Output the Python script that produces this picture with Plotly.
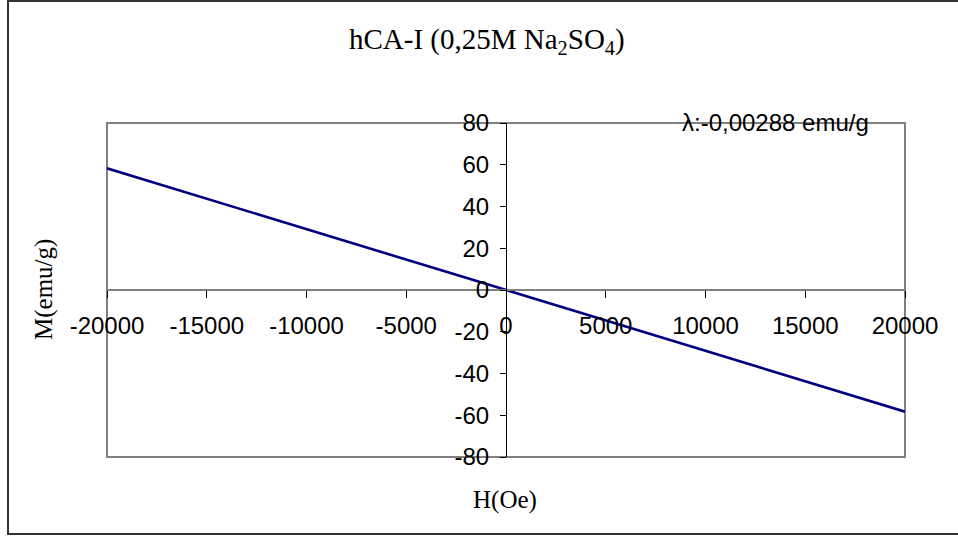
import plotly.graph_objects as go

# Magnetisation curve of hCA-I in 0.25 M Na2SO4
field_oe = [-20000, -10000, 0, 10000, 20000]
magnetisation = [58.3, 29.2, 0.1, -29.1, -58.3]

x_ticks = [-20000, -15000, -10000, -5000, 0, 5000, 10000, 15000, 20000]
y_ticks = [-80, -60, -40, -20, 0, 20, 40, 60, 80]

title_text = "hCA-I (0,25M Na<sub>2</sub>SO<sub>4</sub>)"
x_title = "H(Oe)"
y_title = "M(emu/g)"
slope_note = "λ:-0,00288 emu/g"

W, H = 958, 538
L, R, T, B = 107, 905, 123, 457  # plot area in pixels
PW, PH = R - L, B - T


def px(x):
    return (x - L) / PW


def py(y):
    return (B - y) / PH


sans = "Liberation Sans, Arial, sans-serif"
serif = "Liberation Serif, Times New Roman, serif"

fig = go.Figure()
fig.add_trace(go.Scatter(
    x=field_oe, y=magnetisation, mode="lines",
    line=dict(color="#000080", width=2.6),
    showlegend=False, hoverinfo="skip",
))

fig.update_layout(
    width=W, height=H,
    margin=dict(l=L, r=W - R, t=T, b=H - B, pad=0),
    paper_bgcolor="white", plot_bgcolor="white",
    xaxis=dict(
        range=[-20000, 20000], tickvals=x_ticks,
        ticktext=[str(v) for v in x_ticks],
        anchor="free", position=0.5, side="bottom",
        showline=True, linecolor="#808080", linewidth=2,
        ticks="outside", ticklen=7, tickcolor="#000", tickwidth=1,
        showgrid=False, zeroline=False,
        tickfont=dict(family=sans, size=24, color="#000"),
        ticklabelstandoff=7,
    ),
    yaxis=dict(
        range=[-80, 80], tickvals=y_ticks,
        ticktext=[str(v) for v in y_ticks],
        anchor="free", position=0.5, side="left",
        showline=True, linecolor="#000", linewidth=1,
        ticks="outside", ticklen=6, tickcolor="#000", tickwidth=1,
        showgrid=False, zeroline=False,
        tickfont=dict(family=sans, size=24, color="#000"),
        ticklabelstandoff=6,
    ),
    shapes=[
        # plot-area frame
        dict(type="rect", xref="paper", yref="paper", x0=0, x1=1, y0=0, y1=1,
             line=dict(color="#808080", width=2), layer="below"),
        # chart-area border
        dict(type="rect", xref="paper", yref="paper",
             x0=px(8), x1=px(962), y0=py(534), y1=py(1),
             line=dict(color="#333", width=2), layer="below"),
    ],
    annotations=[
        dict(text=title_text, x=px(487), y=py(41), xref="paper", yref="paper",
             showarrow=False, xanchor="center", yanchor="middle",
             font=dict(family=serif, size=29, color="#000")),
        dict(text=x_title, x=px(505), y=py(500), xref="paper", yref="paper",
             showarrow=False, xanchor="center", yanchor="middle",
             font=dict(family=serif, size=25, color="#000")),
        dict(text=y_title, x=px(44), y=py(290), xref="paper", yref="paper",
             showarrow=False, xanchor="center", yanchor="middle", textangle=-90,
             font=dict(family=serif, size=25, color="#000")),
        dict(text=slope_note, x=px(775), y=py(122), xref="paper", yref="paper",
             showarrow=False, xanchor="center", yanchor="middle",
             font=dict(family=sans, size=24, color="#000")),
    ],
)

fig.write_html("out.html")
